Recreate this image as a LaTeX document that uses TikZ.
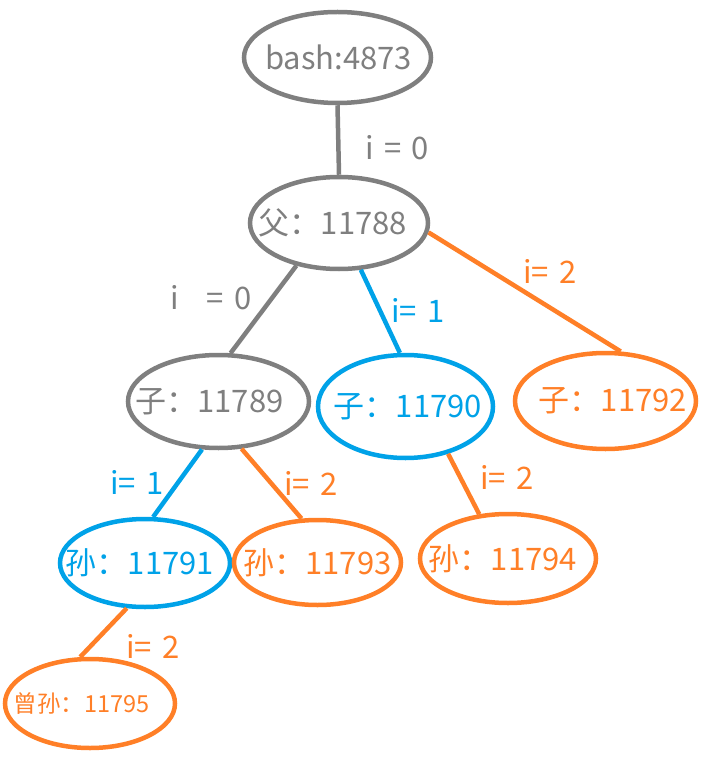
\documentclass[tikz,border=0pt]{standalone}
\usepackage{fontspec}
\setmainfont{Noto Sans CJK SC}
\usetikzlibrary{shapes.geometric}
\definecolor{cgray}{RGB}{127,127,127}
\definecolor{cblue}{RGB}{0,162,232}
\definecolor{corange}{RGB}{255,127,39}
\newcommand\shtxt[2]{\makebox[0pt]{\hspace*{#1}#2\hspace*{-#1}}}
\tikzset{
  proc/.style={ellipse, draw=#1, text=#1, line width=4.5pt, inner sep=0pt, font=\fontsize{31}{33}\selectfont},
  edge/.style={line width=4.5pt},
  lbl/.style={font=\fontsize{31}{33}\selectfont, inner sep=0pt},
}
\begin{document}
\begin{tikzpicture}[x=1pt,y=-1pt]
\useasboundingbox (0,0) rectangle (721,775);
\node[proc=cgray, minimum width=187pt, minimum height=91pt] (bash) at (337.5,57.5) {\shtxt{1pt}{bash:4873}};
\node[proc=cgray, minimum width=178pt, minimum height=92pt] (f) at (339,223) {\shtxt{-6pt}{父：11788}};
\node[proc=cgray, minimum width=181pt, minimum height=93pt] (c1) at (218.5,401.5) {\shtxt{-9pt}{子：11789}};
\node[proc=cblue, minimum width=175pt, minimum height=103pt] (c2) at (405.5,406.5) {\shtxt{2.5pt}{子：11790}};
\node[proc=corange, minimum width=181pt, minimum height=96pt] (c3) at (605.5,401) {\shtxt{7.5pt}{子：11792}};
\node[proc=cblue, minimum width=170pt, minimum height=88pt] (g1) at (145,563) {\shtxt{-5pt}{孙：11791}};
\node[proc=corange, minimum width=167pt, minimum height=85pt] (g2) at (317.5,562.5) {\shtxt{0pt}{孙：11793}};
\node[proc=corange, minimum width=176pt, minimum height=89pt] (g3) at (508,558.5) {\shtxt{-5pt}{孙：11794}};
\node[proc=corange, minimum width=170pt, minimum height=89pt, font=\fontsize{23.5}{25}\selectfont] (gg) at (90,703.5) {\shtxt{-8.5pt}{曾孙：11795}};

\draw[edge, cgray] (bash.south) -- (f.north);
\draw[edge, cgray] (f.225) -- (c1.76);
\draw[edge, cblue] (f.295.5) -- (c2.96);
\draw[edge, corange] (f.354) -- (c3.73);
\draw[edge, cblue] (c1.251) -- (g1.80.5);
\draw[edge, corange] (c1.296) -- (g2.110.5);
\draw[edge, corange] (c2.312) -- (g3.123);
\draw[edge, corange] (g1.248) -- (gg.102.7);

\node[lbl, cgray] (l1) at (397,148) {i\,\,=\,\,0};
\node[lbl, cgray] (l2) at (211,298) {i\ \ \ \ =\,\,0};
\node[lbl, cblue] (l3) at (418,310) {i=\,\,1};
\node[lbl, corange] (l4) at (550,271) {i=\,\,2};
\node[lbl, cblue] (l5) at (137,482) {i=\,\,1};
\node[lbl, corange] (l6) at (311,483) {i=\,\,2};
\node[lbl, corange] (l7) at (507,477) {i=\,\,2};
\node[lbl, corange] (l8) at (153,646) {i=\,\,2};
\end{tikzpicture}
\end{document}
